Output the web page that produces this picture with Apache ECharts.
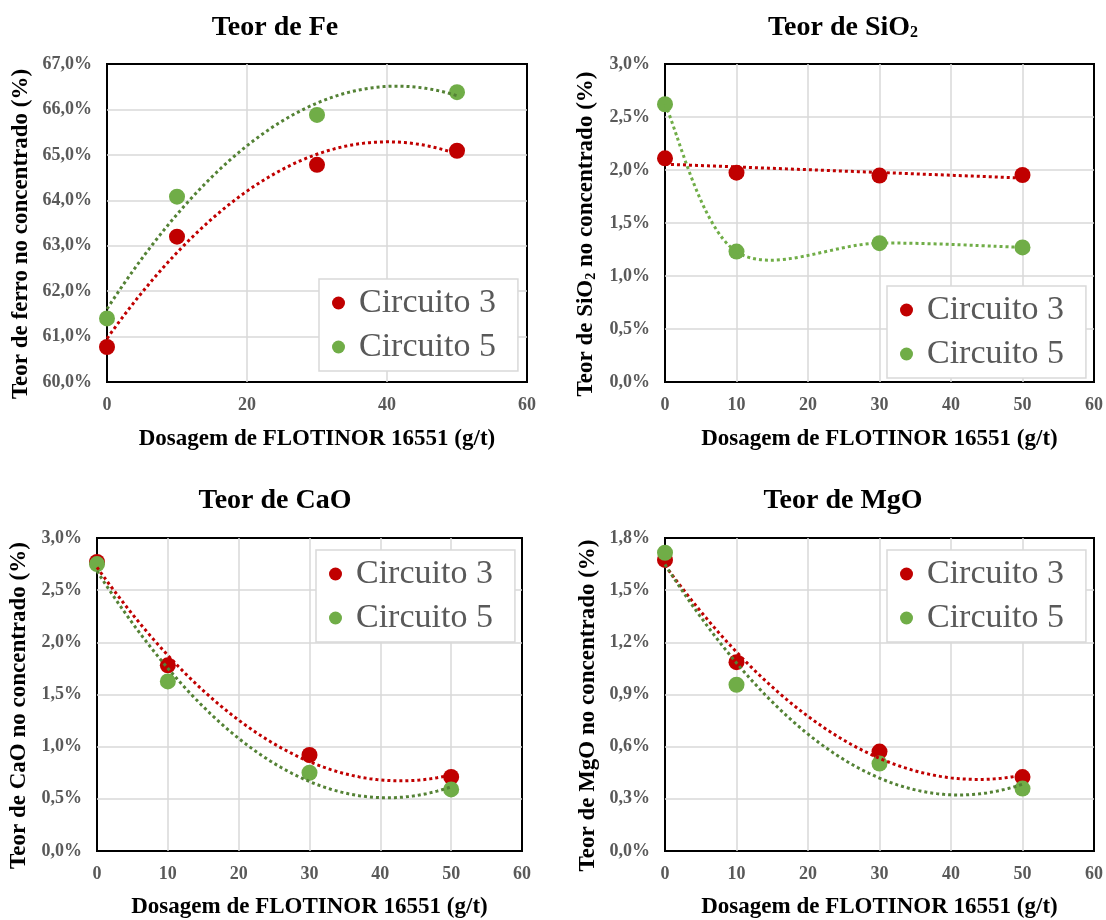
<!DOCTYPE html>
<html>
<head>
<meta charset="utf-8">
<script src="https://cdn.jsdelivr.net/npm/echarts@6/dist/echarts.min.js"></script>
<style>
  html, body { margin: 0; padding: 0; background: #ffffff; }
  #chart { width: 1106px; height: 920px; }
</style>
</head>
<body>
<div id="chart"></div>
<script>
// Dosagem de coletor (g/t)
const dosagem = [0, 10, 30, 50];

// Teores no concentrado (%)
const feC3   = [60.77, 63.20, 64.78, 65.09];
const feC5   = [61.40, 64.08, 65.88, 66.38];
const sio2C3 = [2.11, 1.975, 1.947, 1.953];
const sio2C5 = [2.62, 1.23, 1.31, 1.27];
const caoC3  = [2.77, 1.78, 0.92, 0.71];
const caoC5  = [2.75, 1.625, 0.75, 0.59];
const mgoC3  = [1.674, 1.086, 0.572, 0.425];
const mgoC5  = [1.715, 0.956, 0.503, 0.359];

const serieNames = ['Circuito 3', 'Circuito 5'];
const panelTitles = ['Teor de Fe', 'Teor de SiO{sub|2}', 'Teor de CaO', 'Teor de MgO'];
const yNames = [
  'Teor de ferro no concentrado (%)',
  'Teor de SiO{sub|2} no concentrado (%)',
  'Teor de CaO no concentrado (%)',
  'Teor de MgO no concentrado (%)'
];
const xName = 'Dosagem de FLOTINOR 16551 (g/t)';

// Least-squares polynomial trend line (same as a spreadsheet "polynomial" trend)
function polyfit(xs, ys, order) {
  const n = order + 1;
  const A = [];
  for (let r = 0; r < n; r++) {
    const row = [];
    for (let c = 0; c < n; c++) row.push(xs.reduce((s, x) => s + Math.pow(x, r + c), 0));
    row.push(xs.reduce((s, x, i) => s + ys[i] * Math.pow(x, r), 0));
    A.push(row);
  }
  for (let i = 0; i < n; i++) {
    let p = i;
    for (let k = i + 1; k < n; k++) if (Math.abs(A[k][i]) > Math.abs(A[p][i])) p = k;
    [A[i], A[p]] = [A[p], A[i]];
    for (let k = i + 1; k < n; k++) {
      const f = A[k][i] / A[i][i];
      for (let c = i; c <= n; c++) A[k][c] -= f * A[i][c];
    }
  }
  const coef = new Array(n).fill(0);
  for (let i = n - 1; i >= 0; i--) {
    let s = A[i][n];
    for (let c = i + 1; c < n; c++) s -= A[i][c] * coef[c];
    coef[i] = s / A[i][i];
  }
  return coef;
}
function trendPoints(xs, ys, order) {
  const coef = polyfit(xs, ys, order);
  const pts = [];
  const x0 = Math.min(...xs), x1 = Math.max(...xs);
  for (let x = x0; x <= x1 + 1e-9; x += 0.5) {
    pts.push([x, coef.reduce((s, c, k) => s + c * Math.pow(x, k), 0)]);
  }
  return pts;
}

const RED = '#c00000';
const GREEN = '#70ad47';
const DARK_GREEN = '#548235';
const SERIF = "'Liberation Serif', 'Times New Roman', serif";
const DOT = [3, 3];

// o3/o5: polynomial order of the trend line, or 'smooth' for a smoothed line through the points
const panels = [
  { c3: feC3, c5: feC5, o3: 2, o5: 2, g5: DARK_GREEN, min: 60, max: 67, step: 1, xStep: 20,
    grid: { left: 107, top: 64, width: 420, height: 318 }, nameGap: 74,
    legend: { left: 319, top: 279 }, title: { x: 270, y: 9 }, xNameGap: 46 },
  { c3: sio2C3, c5: sio2C5, o3: 1, o5: 'smooth', g5: GREEN, min: 0, max: 3, step: 0.5, xStep: 10,
    grid: { left: 665, top: 64, width: 429, height: 318 }, nameGap: 67,
    legend: { left: 887, top: 286 }, title: { x: 838, y: 9 }, xNameGap: 46 },
  { c3: caoC3, c5: caoC5, o3: 2, o5: 2, g5: DARK_GREEN, min: 0, max: 3, step: 0.5, xStep: 10,
    grid: { left: 97, top: 538, width: 425, height: 318 }, nameGap: 66,
    legend: { left: 316, top: 550 }, title: { x: 270, y: 482 }, xNameGap: 45 },
  { c3: mgoC3, c5: mgoC5, o3: 2, o5: 2, g5: DARK_GREEN, min: 0, max: 1.8, step: 0.3, xStep: 10,
    grid: { left: 665, top: 538, width: 429, height: 318 }, nameGap: 65,
    legend: { left: 887, top: 550 }, title: { x: 838, y: 482 }, xNameGap: 45 }
];

const subRich = {
  sub: { fontFamily: SERIF, fontWeight: 'bold', fontSize: 16, color: '#000', verticalAlign: 'bottom', padding: [0, 0, 1, 0] }
};
const subRichAxis = {
  sub: { fontFamily: SERIF, fontWeight: 'bold', fontSize: 14, color: '#000', verticalAlign: 'bottom' }
};

const option = {
  backgroundColor: '#ffffff',
  animation: false,
  title: [], grid: [], xAxis: [], yAxis: [], legend: [], series: []
};

// Smoothed line through the points (cubic Bezier segments, Catmull-Rom style tangents)
function smoothLineSeries(name, i, pts, color) {
  return {
    name: name, type: 'custom', xAxisIndex: i, yAxisIndex: i, silent: true, z: 4,
    data: [pts[0]],
    renderItem: function (params, api) {
      const P = pts.map(pt => api.coord(pt));
      const children = [];
      for (let k = 0; k < P.length - 1; k++) {
        const p0 = P[Math.max(k - 1, 0)], p1 = P[k], p2 = P[k + 1], p3 = P[Math.min(k + 2, P.length - 1)];
        children.push({
          type: 'bezierCurve',
          shape: {
            x1: p1[0], y1: p1[1],
            cpx1: p1[0] + (p2[0] - p0[0]) / 6, cpy1: p1[1] + (p2[1] - p0[1]) / 6,
            cpx2: p2[0] - (p3[0] - p1[0]) / 6, cpy2: p2[1] - (p3[1] - p1[1]) / 6,
            x2: p2[0], y2: p2[1]
          },
          style: { stroke: color, lineWidth: 3, lineDash: DOT, fill: null }
        });
      }
      return { type: 'group', children: children };
    }
  };
}

function curveSeries(name, i, pts, ys, order, color) {
  if (order === 'smooth') return smoothLineSeries(name, i, pts, color);
  return {
    name: name, type: 'line', xAxisIndex: i, yAxisIndex: i,
    showSymbol: false, symbol: 'none', silent: true,
    data: trendPoints(dosagem, ys, order),
    lineStyle: { color: color, width: 3, type: DOT }, z: 4
  };
}

panels.forEach((p, i) => {
  option.title.push({
    text: panelTitles[i],
    left: p.title.x, top: p.title.y, textAlign: 'center',
    textStyle: { fontFamily: SERIF, fontWeight: 'bold', fontSize: 28, color: '#000', rich: subRich }
  });
  option.grid.push(Object.assign({
    show: true, borderColor: '#000', borderWidth: 2, backgroundColor: 'transparent', containLabel: false
  }, p.grid));
  option.xAxis.push({
    gridIndex: i, type: 'value', min: 0, max: 60, interval: p.xStep,
    name: xName, nameLocation: 'middle', nameGap: p.xNameGap,
    nameTextStyle: { fontFamily: SERIF, fontWeight: 'bold', fontSize: 23, color: '#000' },
    axisLine: { show: false }, axisTick: { show: false },
    axisLabel: { fontFamily: SERIF, fontWeight: 'bold', fontSize: 18, color: '#595959', margin: 14 },
    splitLine: { show: true, showMinLine: false, showMaxLine: false, lineStyle: { color: '#d9d9d9', width: 1.5 } }
  });
  option.yAxis.push({
    gridIndex: i, type: 'value', min: p.min, max: p.max, interval: p.step,
    name: yNames[i], nameLocation: 'middle', nameGap: p.nameGap,
    nameTextStyle: { fontFamily: SERIF, fontWeight: 'bold', fontSize: 23, color: '#000', rich: subRichAxis,
                     padding: [0, 22, 0, 0] },
    axisLine: { show: false }, axisTick: { show: false },
    axisLabel: {
      fontFamily: SERIF, fontWeight: 'bold', fontSize: 18, color: '#595959', margin: 15,
      formatter: v => v.toFixed(1).replace('.', ',') + '%'
    },
    splitLine: { show: true, showMinLine: false, showMaxLine: false, lineStyle: { color: '#d9d9d9', width: 1.5 } }
  });
  option.legend.push({
    left: p.legend.left, top: p.legend.top, orient: 'vertical',
    data: serieNames.map(n => ({ name: n, icon: 'circle' })),
    itemWidth: 13, itemHeight: 13, itemGap: 8,
    padding: [6, 22, 6, 13],
    backgroundColor: '#ffffff', borderColor: '#d9d9d9', borderWidth: 1.5,
    selectedMode: false,
    textStyle: { fontFamily: SERIF, fontSize: 34, color: '#595959', padding: [0, 0, 0, 9], lineHeight: 36 }
  });

  const pts3 = dosagem.map((x, k) => [x, p.c3[k]]);
  const pts5 = dosagem.map((x, k) => [x, p.c5[k]]);
  option.series.push(
    { name: serieNames[0], type: 'scatter', xAxisIndex: i, yAxisIndex: i, data: pts3,
      symbol: 'circle', symbolSize: 16, itemStyle: { color: RED, opacity: 1 }, z: 2 },
    { name: serieNames[1], type: 'scatter', xAxisIndex: i, yAxisIndex: i, data: pts5,
      symbol: 'circle', symbolSize: 16, itemStyle: { color: GREEN, opacity: 1 }, z: 3 },
    curveSeries('Polinômio (Circuito 3)', i, pts3, p.c3, p.o3, RED),
    curveSeries('Polinômio (Circuito 5)', i, pts5, p.c5, p.o5, p.g5)
  );
});

const chart = echarts.init(document.getElementById('chart'), null, { renderer: 'canvas' });
chart.setOption(option);
</script>
</body>
</html>
